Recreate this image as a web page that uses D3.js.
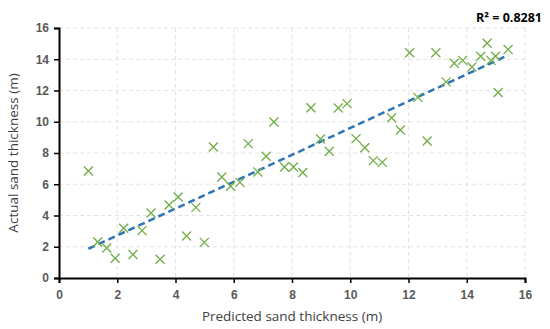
<!DOCTYPE html>
<html>
<head>
<meta charset="utf-8">
<script src="https://cdn.jsdelivr.net/npm/d3@7"></script>
<style>
  body { margin: 0; background: #fff; }
  svg { font-family: "Open Sans", "Noto Sans", sans-serif; }
</style>
</head>
<body>
<div id="chart"></div>
<script>
// predicted vs actual sand thickness (m)
const predicted = [1.01, 1.33, 1.64, 1.93, 2.22, 2.54, 2.85, 3.16, 3.47, 3.78,
    4.09, 4.38, 4.70, 4.99, 5.30, 5.59, 5.89, 6.21, 6.50, 6.83,
    7.11, 7.38, 7.74, 8.05, 8.37, 8.65, 8.98, 9.28, 9.59, 9.89,
    10.2, 10.5, 10.79, 11.1, 11.42, 11.72, 12.04, 12.32, 12.64, 12.94,
    13.29, 13.57, 13.86, 14.18, 14.48, 14.7, 14.83, 14.99, 15.08, 15.42];
const actual = [6.85, 2.3, 1.92, 1.26, 3.18, 1.5, 3.03, 4.16, 1.2, 4.67,
    5.18, 2.69, 4.52, 2.28, 8.38, 6.46, 5.87, 6.12, 8.6, 6.78,
    7.79, 9.98, 7.1, 7.1, 6.75, 10.9, 8.9, 8.11, 10.88, 11.16,
    8.92, 8.34, 7.51, 7.4, 10.26, 9.47, 14.42, 11.56, 8.77, 14.42,
    12.55, 13.74, 13.93, 13.5, 14.19, 15.02, 13.93, 14.19, 11.87, 14.62];
const tickValues = [0, 2, 4, 6, 8, 10, 12, 14, 16];
const rSquared = "0.8281";

const W = 550, H = 329;
const margin = { top: 28, right: 25, bottom: 51, left: 59 };
const width = W - margin.left - margin.right,
    height = H - margin.top - margin.bottom;

const svg = d3.select("#chart").append("svg")
    .attr("width", W).attr("height", H);
const g = svg.append("g")
    .attr("transform", "translate(" + margin.left + "," + margin.top + ")");

const x = d3.scaleLinear().domain([0, 16]).range([0, width]);
const y = d3.scaleLinear().domain([0, 16]).range([height, 0]);

// dashed grid
g.append("g").selectAll("line.h")
    .data(tickValues.slice(1))
    .enter().append("line")
    .attr("x1", 0).attr("x2", width)
    .attr("y1", d => y(d)).attr("y2", d => y(d))
    .attr("stroke", "#e3e3e3").attr("stroke-dasharray", "4,3");
g.append("g").selectAll("line.v")
    .data(tickValues.slice(1))
    .enter().append("line")
    .attr("y1", 0).attr("y2", height)
    .attr("x1", d => x(d)).attr("x2", d => x(d))
    .attr("stroke", "#e3e3e3").attr("stroke-dasharray", "4,3");

// axes
const xAxis = g.append("g")
    .attr("transform", "translate(0," + height + ")")
    .call(d3.axisBottom(x).tickValues(tickValues).tickSize(5).tickSizeOuter(5));
const yAxis = g.append("g")
    .call(d3.axisLeft(y).tickValues(tickValues).tickSize(5).tickSizeOuter(5));
[xAxis, yAxis].forEach(a => {
    a.select(".domain").attr("stroke", "#000").attr("stroke-width", 2);
    a.selectAll(".tick line").attr("stroke", "#000").attr("stroke-width", 1.5);
    a.selectAll(".tick text")
        .attr("fill", "#595959")
        .style("font-size", "12px")
        .style("font-weight", "bold");
});
xAxis.selectAll(".tick text").attr("dy", "1.1em");
yAxis.selectAll(".tick text").attr("x", -10);

// trend line (least squares from the points)
const n = predicted.length;
const mx = d3.mean(predicted), my = d3.mean(actual);
let sxy = 0, sxx = 0;
for (let i = 0; i < n; i++) {
    sxy += (predicted[i] - mx) * (actual[i] - my);
    sxx += (predicted[i] - mx) * (predicted[i] - mx);
}
const slope = sxy / sxx, intercept = my - slope * mx;
const xExt = d3.extent(predicted);
g.append("line")
    .attr("x1", x(xExt[0])).attr("y1", y(intercept + slope * xExt[0]))
    .attr("x2", x(xExt[1])).attr("y2", y(intercept + slope * xExt[1]))
    .attr("stroke", "#2e75b6").attr("stroke-width", 2.5)
    .attr("stroke-dasharray", "7,4");

// markers
const s = 4.5;
g.append("g").selectAll("path")
    .data(predicted.map((p, i) => ({ p: p, a: actual[i] })))
    .enter().append("path")
    .attr("d", d => {
        const cx = x(d.p), cy = y(d.a);
        return "M" + (cx - s) + "," + (cy - s) + "L" + (cx + s) + "," + (cy + s) +
            "M" + (cx - s) + "," + (cy + s) + "L" + (cx + s) + "," + (cy - s);
    })
    .attr("stroke", "#70ad47").attr("stroke-width", 1.3).attr("fill", "none");

// titles
svg.append("text")
    .attr("x", margin.left + width / 2).attr("y", H - 8)
    .attr("text-anchor", "middle")
    .attr("fill", "#404040").style("font-size", "13.5px")
    .text("Predicted sand thickness (m)");
svg.append("text")
    .attr("transform", "translate(18," + (margin.top + height / 2) + ")rotate(-90)")
    .attr("text-anchor", "middle")
    .attr("fill", "#404040").style("font-size", "13.5px")
    .text("Actual sand thickness (m)");
svg.append("text")
    .attr("x", 542).attr("y", 22)
    .attr("text-anchor", "end")
    .style("font-size", "12.5px").style("font-weight", "bold")
    .text("R² = " + rSquared);
</script>
</body>
</html>
